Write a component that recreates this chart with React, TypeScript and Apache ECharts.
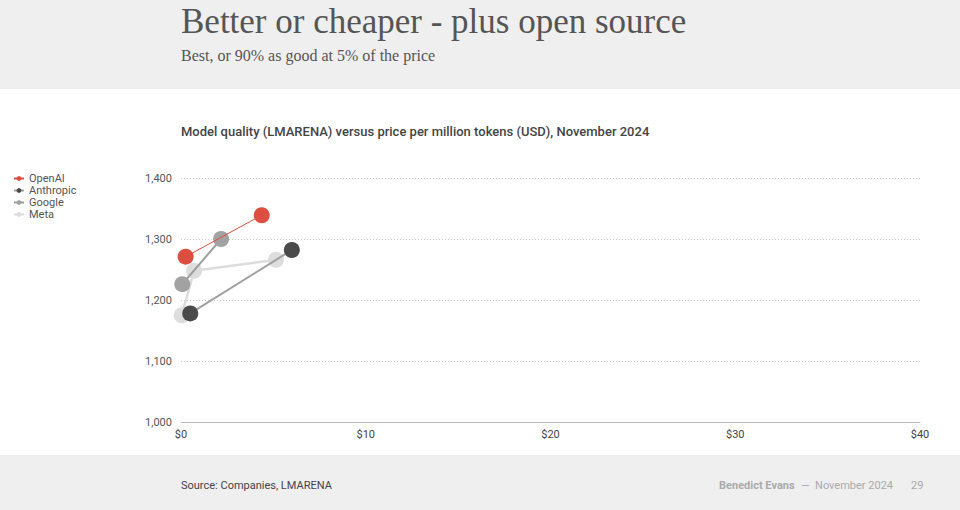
import React, { useEffect, useRef } from "react";
import * as echarts from "echarts";

const seriesNames = ["OpenAI", "Anthropic", "Google", "Meta"];
const seriesColors = ["#dc4f40", "#4a4a4a", "#a2a2a2", "#dddddd"];
const lineColors = ["#dc4f40", "#a0a0a0", "#9d9d9d", "#dcdcdc"];
const lineWidths = [1, 2, 2, 2.5];

// [price per million tokens (USD), LMARENA score]
const openaiPoints = [
  [0.25, 1271],
  [4.37, 1339],
];
const anthropicPoints = [
  [0.5, 1178],
  [6.0, 1282],
];
const googlePoints = [
  [0.07, 1226],
  [2.17, 1300],
];
const metaPoints = [
  [0.04, 1175],
  [0.71, 1248],
  [5.14, 1266],
];
const allPoints = [openaiPoints, anthropicPoints, googlePoints, metaPoints];

const xTicks = [0, 10, 20, 30, 40];
const yTicks = [1000, 1100, 1200, 1300, 1400];

export default function App() {
  const ref = useRef<HTMLDivElement>(null);
  useEffect(() => {
    if (!ref.current) return;
    const chart = echarts.init(ref.current, null, { renderer: "svg" });
    const series = seriesNames.map((name, i) => ({
      name,
      type: "line",
      data: allPoints[i],
      symbol: "circle",
      symbolSize: 16,
      z: 10 - i,
      itemStyle: { color: seriesColors[i], opacity: 1 },
      lineStyle: { color: lineColors[i], width: lineWidths[i] },
      emphasis: { disabled: true },
    }));
    chart.setOption({
      animation: false,
      backgroundColor: "#ffffff",
      graphic: [
        { type: "rect", left: 0, top: 0, shape: { width: 960, height: 89 }, style: { fill: "#efefef" }, z: -10 },
        { type: "rect", left: 0, top: 455, shape: { width: 960, height: 55 }, style: { fill: "#efefef" }, z: -10 },
        {
          type: "text", left: 181, top: 4,
          style: { text: "Better or cheaper - plus open source", font: "35px 'Liberation Serif', serif", fill: "#555555" },
        },
        {
          type: "text", left: 181, top: 47,
          style: { text: "Best, or 90% as good at 5% of the price", font: "16px 'Liberation Serif', serif", fill: "#555555" },
        },
        {
          type: "text", left: 181, top: 125,
          style: { text: "Model quality (LMARENA) versus price per million tokens (USD), November 2024", font: "500 13px Roboto, sans-serif", fill: "#444444" },
        },
        {
          type: "text", left: 181, top: 480,
          style: { text: "Source: Companies, LMARENA", font: "11px Roboto, sans-serif", fill: "#444444" },
        },
        {
          type: "text", left: 719, top: 480,
          style: { text: "Benedict Evans", font: "bold 11px Roboto, sans-serif", fill: "#aaaaaa" },
        },
        {
          type: "text", left: 801, top: 480,
          style: { text: "—  November 2024", font: "11px Roboto, sans-serif", fill: "#aaaaaa" },
        },
        {
          type: "text", left: 911, top: 480,
          style: { text: "29", font: "11px Roboto, sans-serif", fill: "#aaaaaa" },
        },
      ],
      legend: {
        data: seriesNames,
        orient: "vertical",
        left: 8,
        top: 168,
        itemGap: 1,
        itemWidth: 10,
        itemHeight: 6,
        textStyle: { fontSize: 11, color: "#555555", fontFamily: "Roboto, sans-serif" },
      },
      grid: { left: 181, right: 40, top: 178, bottom: 88, containLabel: false },
      xAxis: {
        type: "value",
        min: xTicks[0],
        max: xTicks[xTicks.length - 1],
        interval: 10,
        axisLine: { show: true, lineStyle: { color: "#bbbbbb" } },
        axisTick: { show: false },
        splitLine: { show: false },
        axisLabel: {
          formatter: (v: number) => "$" + v,
          color: "#444444",
          fontSize: 11,
          fontFamily: "Roboto, sans-serif",
          margin: 7,
        },
      },
      yAxis: {
        type: "value",
        min: yTicks[0],
        max: yTicks[yTicks.length - 1],
        interval: 100,
        axisLine: { show: false },
        axisTick: { show: false },
        splitLine: { show: true, lineStyle: { color: "#cccccc", type: [1, 2], width: 1 } },
        axisLabel: {
          formatter: (v: number) => v.toLocaleString("en-US"),
          color: "#555555",
          fontSize: 11,
          fontFamily: "Roboto, sans-serif",
          margin: 9,
        },
      },
      series,
    });
    return () => chart.dispose();
  }, []);
  return (
    <div
      ref={ref}
      style={{ position: "fixed", left: 0, top: 0, width: 960, height: 510 }}
    />
  );
}
